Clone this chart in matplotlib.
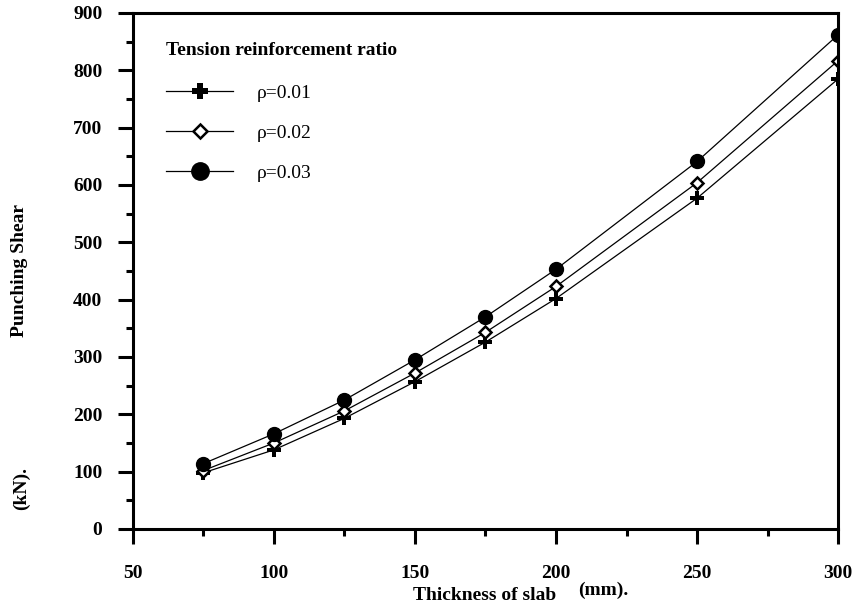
import matplotlib
matplotlib.use("Agg")
import matplotlib.pyplot as plt
from matplotlib.ticker import MultipleLocator

plt.rcParams['font.family'] = ['Liberation Serif', 'DejaVu Serif']

thickness = [75, 100, 125, 150, 175, 200, 250, 300]
rho_001 = [98, 138, 193, 257, 326, 402, 577, 785]
rho_002 = [102, 150, 206, 272, 343, 423, 604, 817]
rho_003 = [114, 166, 225, 295, 370, 453, 641, 862]
labels = ["\u03c1=0.01", "\u03c1=0.02", "\u03c1=0.03"]
x_ticks = [50, 100, 150, 200, 250, 300]
y_ticks = [0, 100, 200, 300, 400, 500, 600, 700, 800, 900]

FS = 14

fig = plt.figure(figsize=(8.57, 6.10), dpi=100)
ax = fig.add_axes([0.155, 0.1328, 0.823, 0.8459])

ax.plot(thickness, rho_001, color='black', lw=0.9, marker='P', ms=9.5,
        mfc='black', mec='black', mew=0, label=labels[0])
ax.plot(thickness, rho_002, color='black', lw=0.9, marker='D', ms=6,
        mfc='white', mec='black', mew=1.8, label=labels[1])
ax.plot(thickness, rho_003, color='black', lw=0.9, marker='o', ms=10,
        mfc='black', mec='black', label=labels[2])

ax.set_xlim(50, 300)
ax.set_ylim(0, 900)
ax.set_xticks(x_ticks)
ax.set_yticks(y_ticks)
ax.xaxis.set_minor_locator(MultipleLocator(25))
ax.yaxis.set_minor_locator(MultipleLocator(50))

for s in ax.spines.values():
    s.set_linewidth(2.2)

ax.tick_params(axis='both', which='major', direction='out', length=11,
               width=2.2, labelsize=FS)
ax.tick_params(axis='both', which='minor', direction='out', length=5,
               width=2.2)
ax.tick_params(axis='x', which='major', pad=15)
ax.tick_params(axis='y', which='major', pad=11)
for lab in ax.get_xticklabels() + ax.get_yticklabels():
    lab.set_fontweight('bold')

leg = ax.legend(loc='upper left', bbox_to_anchor=(0.047, 0.943), frameon=False,
                title="Tension reinforcement ratio", alignment='left',
                title_fontproperties={'weight': 'bold', 'size': FS},
                fontsize=FS, handlelength=3.45, handletextpad=1.2,
                labelspacing=1.15, borderpad=0, borderaxespad=0,
                markerscale=1.25)
leg._legend_box.sep = 18

fig.text(20 / 857, 1 - 270 / 610, "Punching Shear", rotation=90,
         ha='center', va='center', fontsize=FS, fontweight='bold')
fig.text(21 / 857, 1 - 489 / 610, "(kN).", rotation=90,
         ha='center', va='center', fontsize=FS, fontweight='bold')
fig.text(485 / 857, 1 - 596 / 610, "Thickness of slab", ha='center',
         va='center', fontsize=FS, fontweight='bold')
fig.text(603 / 857, 1 - 590 / 610, "(mm).", ha='center',
         va='center', fontsize=FS, fontweight='bold')

fig.savefig("out.png", dpi=100)
